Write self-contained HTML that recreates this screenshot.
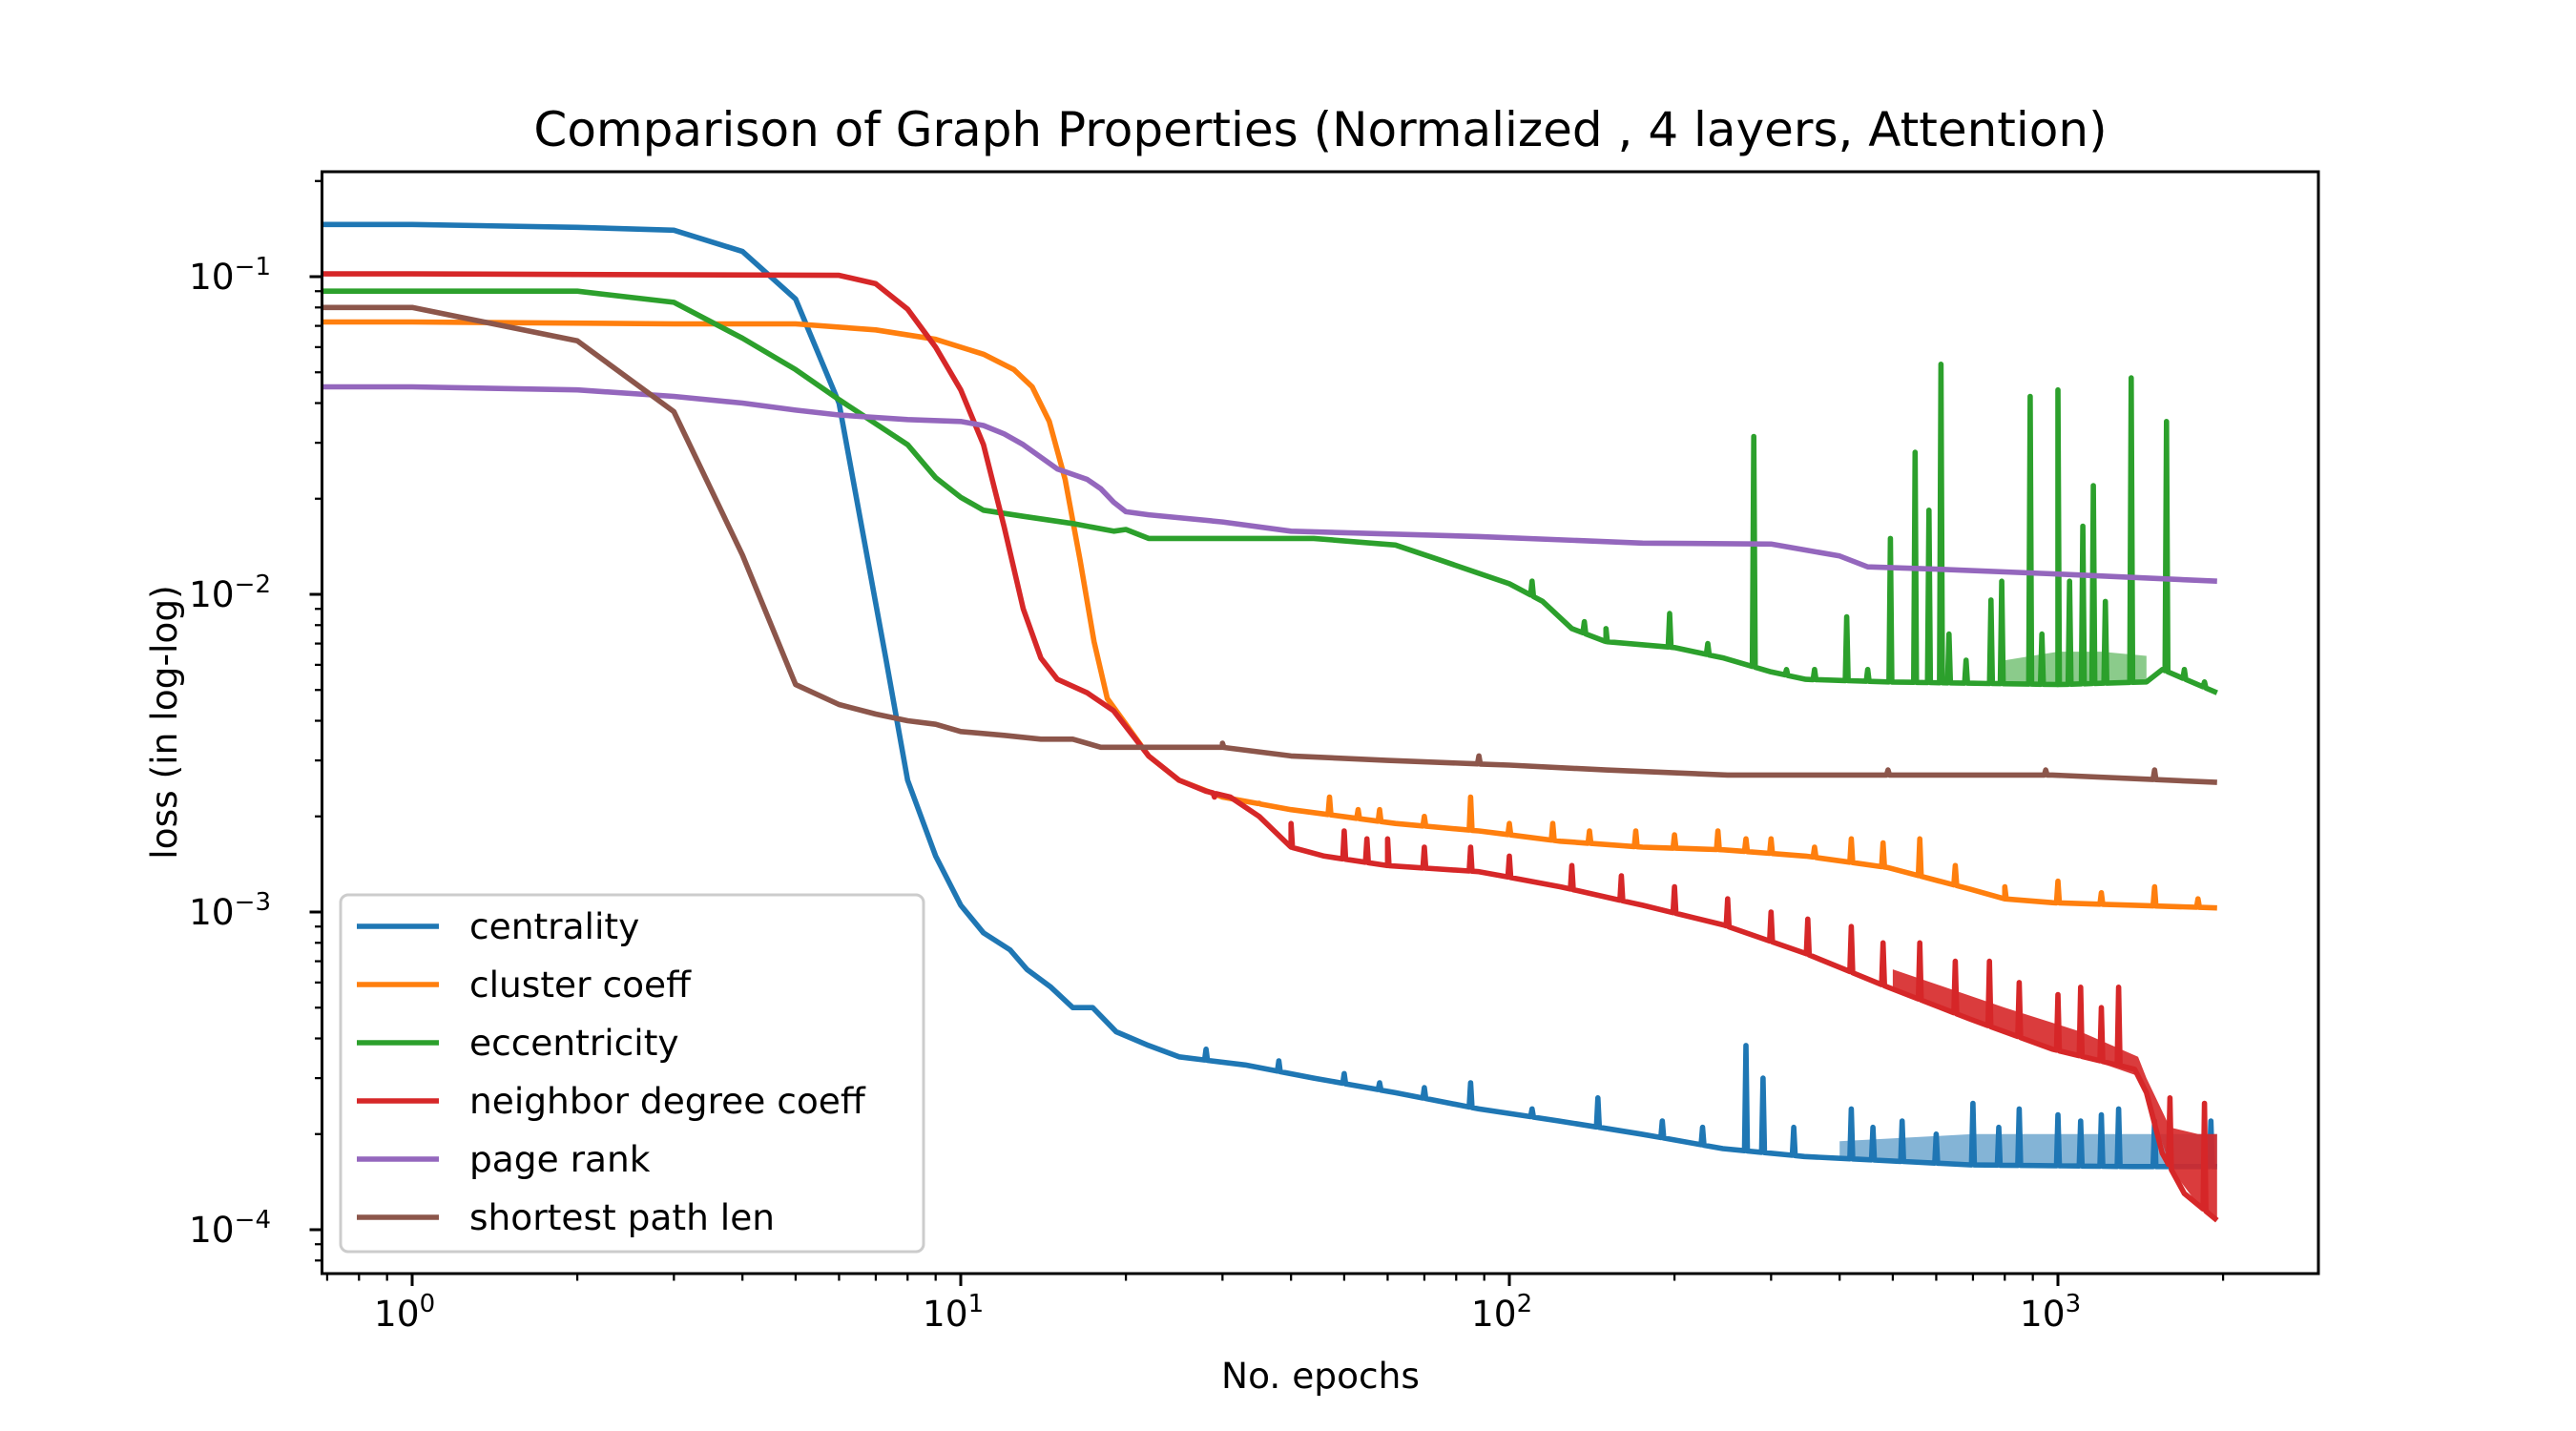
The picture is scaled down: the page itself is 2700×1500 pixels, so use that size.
<!DOCTYPE html>
<html><head><meta charset="utf-8"><style>
html,body{margin:0;padding:0;background:#fff;}
svg{display:block;font-family:"DejaVu Sans","Liberation Sans",sans-serif;}
</style></head><body>
<svg id="chart" width="2700" height="1500" viewBox="0 0 2700 1500">
<defs><clipPath id="plotclip"><rect x="339" y="181" width="2090" height="1153"/></clipPath></defs>
<rect x="0" y="0" width="2700" height="1500" fill="#fff"/>
<text x="1384" y="153" font-size="50" text-anchor="middle">Comparison of Graph Properties (Normalized , 4 layers, Attention)</text>
<g id="ticks"></g>
<g id="series" clip-path="url(#plotclip)"></g>
<rect x="337.5" y="180" width="2092.5" height="1155" fill="none" stroke="#000" stroke-width="3"/>
<text x="1384" y="1455" font-size="37.5" text-anchor="middle">No. epochs</text>
<text x="185" y="757" font-size="37.5" text-anchor="middle" transform="rotate(-90 185 757)">loss (in log-log)</text>
<g id="legend"></g>
</svg>
<script>
const seriesNames = ["centrality","cluster coeff","eccentricity","neighbor degree coeff","page rank","shortest path len"];
const seriesColors = ["#1f77b4","#ff7f0e","#2ca02c","#d62728","#9467bd","#8c564b"];
const xTickLabels = ["0","1","2","3"];
const yTickLabels = ["-1","-2","-3","-4"];

const centralityEpochs = [0,1,2,3,4,5,6,7.3,8,9,10,11,12.3,13.2,14.6,16,17.4,19.2,22,25,33,44,62,88,123,174,245,345,690,1370,1950];
const centralityValues = [0.146,0.146,0.143,0.140,0.12,0.085,0.040,0.0063,0.0026,0.0015,0.00105,0.00086,0.00076,0.00066,0.00058,0.0005,0.0005,0.00042,0.00038,0.00035,0.00033,0.0003,0.00027,0.00024,0.00022,0.0002,0.00018,0.00017,0.00016,0.000158,0.000158];
const centralitySpikes = [[28,0.00037],[38,0.00034],[50,0.00031],[58,0.00029],[70,0.00028],[85,0.00029],[110,0.00024],[145,0.00026],[190,0.00022],[225,0.00021],[270,0.00038],[290,0.0003],[330,0.00021],[420,0.00024],[460,0.00021],[520,0.00022],[600,0.0002],[700,0.00025],[780,0.00021],[850,0.00024],[1000,0.00023],[1100,0.00022],[1200,0.00023],[1290,0.00024],[1500,0.00022],[1900,0.00022]];
const centralityBandEpochs = [400,700,1000,1400,1950];
const centralityBandUpper = [0.00019,0.0002,0.0002,0.0002,0.0002];

const clusterEpochs = [0,1,3,5,7,9,11,12.5,13.5,14.5,15.5,16.5,17.5,18.5,20,22,25,30,40,62,88,124,175,246,347,490,692,800,977,1380,1950];
const clusterValues = [0.072,0.072,0.071,0.071,0.068,0.0635,0.057,0.051,0.045,0.035,0.023,0.0128,0.0071,0.0047,0.0039,0.0031,0.0026,0.0023,0.0021,0.0019,0.0018,0.00167,0.0016,0.00157,0.0015,0.00138,0.00118,0.0011,0.00107,0.00105,0.00103];
const clusterSpikes = [[35,0.0022],[47,0.0023],[53,0.0021],[58,0.0021],[70,0.002],[85,0.0023],[100,0.0019],[120,0.0019],[140,0.0018],[170,0.0018],[200,0.00175],[240,0.0018],[270,0.0017],[300,0.0017],[360,0.0016],[420,0.0017],[480,0.00165],[560,0.0017],[650,0.0014],[800,0.0012],[1000,0.00125],[1200,0.00115],[1500,0.0012],[1800,0.0011]];

const eccEpochs = [0,1,2,3,4,5,6,8,9,10,11,13,16,19,20,22,31,44,62,75,100,115,130,150,200,246,300,347,490,1000,1450,1550,1950];
const eccValues = [0.09,0.09,0.09,0.083,0.064,0.051,0.041,0.0296,0.0233,0.0202,0.0184,0.0176,0.0167,0.0158,0.016,0.015,0.015,0.015,0.0143,0.0128,0.0108,0.0095,0.0078,0.0071,0.0068,0.0063,0.0057,0.0054,0.0053,0.0052,0.0053,0.0058,0.0049];
const eccSpikes = [[110,0.011],[137,0.0082],[150,0.0078],[196,0.0087],[230,0.007],[279,0.0314],[320,0.0058],[360,0.0058],[412,0.0085],[450,0.0058],[495,0.015],[549,0.028],[582,0.0184],[612,0.053],[633,0.0075],[680,0.0062],[755,0.0096],[790,0.011],[890,0.042],[935,0.0075],[1000,0.044],[1050,0.011],[1110,0.0164],[1160,0.022],[1220,0.0095],[1360,0.048],[1577,0.035],[1700,0.0058],[1850,0.0053]];
const eccBandEpochs = [800,1000,1200,1450];
const eccBandUpper = [0.0062,0.0066,0.0066,0.0064];

const neighborEpochs = [0,1,6,7,8,9,10,11,12,13,14,15,17,19,22,25,28,31,35,40,46,60,88,124,175,246,347,490,692,977,1380,1450,1550,1700,1950];
const neighborValues = [0.102,0.102,0.101,0.095,0.079,0.06,0.044,0.0296,0.0163,0.009,0.0063,0.0054,0.0049,0.0043,0.0031,0.0026,0.0024,0.0023,0.002,0.0016,0.0015,0.0014,0.00134,0.0012,0.00105,0.00091,0.00074,0.00058,0.00046,0.00037,0.00032,0.00027,0.000174,0.00013,0.000107];
const neighborSpikes = [[29,0.0023],[40,0.0019],[50,0.0018],[55,0.0017],[60,0.0017],[70,0.0016],[85,0.0016],[100,0.0015],[130,0.0014],[160,0.0013],[200,0.0012],[250,0.0011],[300,0.001],[350,0.00095],[420,0.0009],[480,0.0008],[560,0.0008],[650,0.0007],[750,0.0007],[850,0.0006],[1000,0.00055],[1100,0.00058],[1200,0.0005],[1290,0.00058],[1600,0.00026],[1850,0.00025]];
const neighborBandEpochs = [500,800,1100,1400,1450,1600,1800,1950];
const neighborBandUpper = [0.00066,0.0005,0.00042,0.00035,0.0003,0.00021,0.0002,0.0002];

const pageRankEpochs = [0,1,2,3,4,5,6,8,10,11,12,13,15,17,18,19,20,22,30,40,88,175,300,400,450,600,977,1950];
const pageRankValues = [0.045,0.045,0.044,0.042,0.040,0.038,0.0367,0.0355,0.035,0.034,0.032,0.0296,0.0248,0.023,0.0215,0.0195,0.0182,0.0178,0.0169,0.0158,0.0152,0.0145,0.0144,0.0132,0.0122,0.012,0.0116,0.011];

const pathEpochs = [0,1,2,3,4,5,6,7,8,9,10,12,14,16,18,22,30,40,60,100,150,250,500,977,1950];
const pathValues = [0.08,0.08,0.0628,0.0376,0.0133,0.0052,0.0045,0.0042,0.004,0.0039,0.0037,0.0036,0.0035,0.0035,0.0033,0.0033,0.0033,0.0031,0.003,0.0029,0.0028,0.0027,0.0027,0.0027,0.00256];
const pathSpikes = [[30,0.0034],[88,0.0031],[490,0.0028],[950,0.0028],[1500,0.0028]];

const L=337.5,R=2430,T=180,B=1335;
function X(e){ if(e<=0) return L-40; return 432+575*Math.log10(e); }
function Y(v){ return 290+333*(-1-Math.log10(v)); }
const NS="http://www.w3.org/2000/svg";
function interp(ep,vals,e){
  if(e<=ep[1]) return vals[1];
  for(let i=1;i<ep.length-1;i++){ if(e>=ep[i]&&e<=ep[i+1]){ const t=(Math.log(e)-Math.log(ep[i]))/(Math.log(ep[i+1])-Math.log(ep[i])); return Math.exp(Math.log(vals[i])*(1-t)+Math.log(vals[i+1])*t);} }
  return vals[vals.length-1];
}
function buildPts(ep,vals,spikes){
  let pts=ep.map((e,i)=>[X(e),Y(vals[i])]);
  (spikes||[]).forEach(s=>{
    const e=s[0];
    pts.push([X(e*0.994),Y(interp(ep,vals,e*0.994))]);
    pts.push([X(e),Y(s[1])]);
    pts.push([X(e*1.006),Y(interp(ep,vals,e*1.006))]);
  });
  pts.sort((a,b)=>a[0]-b[0]);
  return pts.map(p=>p[0].toFixed(1)+","+p[1].toFixed(1)).join(" ");
}
const sg=document.getElementById("series");
function addBand(ep,vals,bandEp,bandUp,color,op,name){
  let up=bandEp.map((e,i)=>X(e).toFixed(1)+","+Y(bandUp[i]).toFixed(1));
  let lo=bandEp.slice().reverse().map(e=>X(e).toFixed(1)+","+Y(interp(ep,vals,e)).toFixed(1));
  const p=document.createElementNS(NS,"polygon");
  p.setAttribute("points",up.concat(lo).join(" "));
  p.setAttribute("fill",color);p.setAttribute("fill-opacity",op);
  
  
  sg.appendChild(p);
}
function addLine(ep,vals,spikes,color,name){
  const p=document.createElementNS(NS,"polyline");
  p.setAttribute("points",buildPts(ep,vals,spikes));
  p.setAttribute("fill","none");p.setAttribute("stroke",color);p.setAttribute("stroke-width","5.6");p.setAttribute("stroke-linejoin","round");
  
  
  sg.appendChild(p);
}
addLine(centralityEpochs,centralityValues,centralitySpikes,seriesColors[0],"centrality-line");
addBand(centralityEpochs,centralityValues,centralityBandEpochs,centralityBandUpper,seriesColors[0],0.55,"centrality-noise");
addLine(clusterEpochs,clusterValues,clusterSpikes,seriesColors[1],"cluster-coeff-line");
addLine(eccEpochs,eccValues,eccSpikes,seriesColors[2],"eccentricity-line");
addBand(eccEpochs,eccValues,eccBandEpochs,eccBandUpper,seriesColors[2],0.55,"eccentricity-noise");
addLine(neighborEpochs,neighborValues,neighborSpikes,seriesColors[3],"neighbor-degree-line");
addBand(neighborEpochs,neighborValues,neighborBandEpochs,neighborBandUpper,seriesColors[3],0.9,"neighbor-degree-noise");
addLine(pageRankEpochs,pageRankValues,[],seriesColors[4],"page-rank-line");
addLine(pathEpochs,pathValues,pathSpikes,seriesColors[5],"shortest-path-line");

const tg=document.getElementById("ticks");
function ln(x1,y1,x2,y2,w,name){const l=document.createElementNS(NS,"line");l.setAttribute("x1",x1);l.setAttribute("y1",y1);l.setAttribute("x2",x2);l.setAttribute("y2",y2);l.setAttribute("stroke","#000");l.setAttribute("stroke-width",w);
 
 
 tg.appendChild(l);}
function txt(x,y,html,anchor,name){const t=document.createElementNS(NS,"text");t.setAttribute("x",x);t.setAttribute("y",y);t.setAttribute("font-size","37.5");t.setAttribute("text-anchor",anchor);t.innerHTML=html;
 
 
 tg.appendChild(t);}
for(let d=-1;d<=4;d++){for(let m=1;m<10;m++){const x=X(m*Math.pow(10,d));if(x<L||x>R)continue;
 if(m===1){ln(x,B,x,B+13,3,"x-tick");}else{ln(x,B,x,B+7.5,2.25,"x-minor-tick");}}}
xTickLabels.forEach(s=>{const x=X(Math.pow(10,+s));txt(x-8,B+55,'10<tspan font-size="26" dy="-15">'+s+'</tspan>',"middle","x-tick-label");});
for(let d=-5;d<=0;d++){for(let m=1;m<10;m++){const y=Y(m*Math.pow(10,d));if(y<T||y>B)continue;
 if(m===1){ln(L,y,L-13,y,3,"y-tick");}else{ln(L,y,L-7.5,y,2.25,"y-minor-tick");}}}
yTickLabels.forEach(s=>{const y=Y(Math.pow(10,+s));txt(284,y+13,'10<tspan font-size="26" dy="-15">\u2212'+s.slice(1)+'</tspan>',"end","y-tick-label");});

const lg=document.getElementById("legend");
const box=document.createElementNS(NS,"rect");
box.setAttribute("x",357);box.setAttribute("y",938);box.setAttribute("width",611);box.setAttribute("height",374);box.setAttribute("rx",8);
box.setAttribute("fill","#fff");box.setAttribute("fill-opacity","0.8");box.setAttribute("stroke","#ccc");box.setAttribute("stroke-width","3");


lg.appendChild(box);
seriesNames.forEach((n,i)=>{
 const y=971+i*61;
 const g=document.createElementNS(NS,"g");
 
 
 const l=document.createElementNS(NS,"line");
 l.setAttribute("x1",374);l.setAttribute("x2",460);l.setAttribute("y1",y);l.setAttribute("y2",y);l.setAttribute("stroke",seriesColors[i]);l.setAttribute("stroke-width",5.6);
 const t=document.createElementNS(NS,"text");
 t.setAttribute("x",492);t.setAttribute("y",y+13);t.setAttribute("font-size","37.5");t.textContent=n;
 g.appendChild(l);g.appendChild(t);lg.appendChild(g);
});
</script>
</body></html>
